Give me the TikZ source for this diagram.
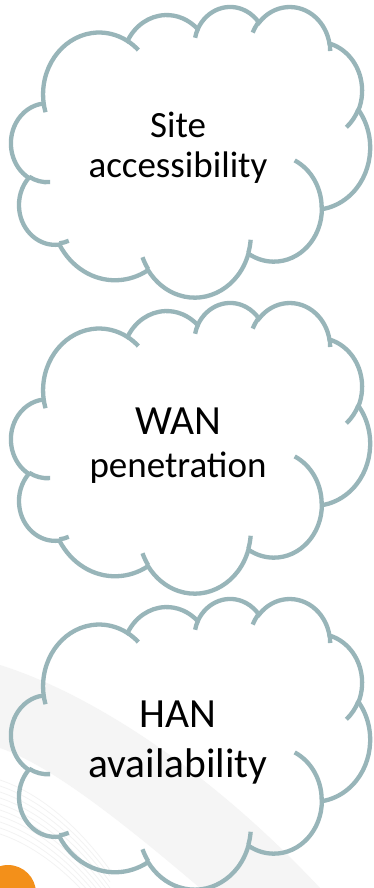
\documentclass[tikz,border=0pt]{standalone}
\usepackage{fontspec}
\setmainfont{Carlito}
\definecolor{cloudgray}{RGB}{152,181,185}
\definecolor{logoorange}{RGB}{243,144,26}

\tikzset{
  cloudline/.style={draw=cloudgray, line width=4.3pt},
  bigtext/.style={font=\fontsize{41.5}{50}\selectfont, anchor=base, inner sep=0pt},
  smalltext/.style={font=\fontsize{37}{41}\selectfont, anchor=base, inner sep=0pt},
  puffcloud/.pic={
    % outline (grid of 432 x 432)
    \draw[cloudline] (39,143.7)
      \foreach \wr/\hr/\st/\sw in {67.53/91.90/-190.4875/123.7805, 53.33/72.67/-144.1024/89.9452,
          43.65/59.45/-145.8079/99.7230, 48.57/65.95/-130.9861/117.2417,
          53.33/72.73/-78.7089/109.0269, 67.75/92.20/-46.2673/130.2690,
          57.85/78.67/0.6250/114.0333, 67.52/92.15/22.4516/115.1726,
          77.20/105.43/66.2426/75.7300, 43.60/59.18/-274.9421/146.7356,
          43.45/59.45/-246.8285/152.6800}{
        arc[start angle={atan2(\wr*sin(\st),\hr*cos(\st))},
            delta angle={mod(atan2(\wr*sin(\st+\sw),\hr*cos(\st+\sw))-atan2(\wr*sin(\st),\hr*cos(\st))+720,360)},
            x radius=\wr, y radius=\hr]
      } -- cycle;
    % inner hooks
    \foreach \px/\py/\wr/\hr/\st/\sw in {46.93/261.77/43.45/59.45/86.7420/26.4295,
        69.28/348.99/43.60/59.18/73.6105/11.4475, 164.78/390.90/67.52/92.15/137.6242/14.0811,
        288.27/347.51/67.52/92.15/6.4533/15.9984, 341.29/229.54/57.85/78.67/-70.2924/70.9174,
        417.98/153.54/53.33/72.73/30.3180/27.7515, 383.24/54.26/48.57/65.95/-13.7443/14.8589,
        290.78/39.52/48.57/65.95/-149.1815/18.1954, 221.41/47.20/43.65/59.45/-163.4943/17.6864,
        140.00/51.92/67.53/91.90/-66.7070/12.3194, 41.27/157.89/67.53/91.90/157.6544/11.8582}
      \draw[cloudline] (\px,\py)
        arc[start angle={atan2(\wr*sin(\st),\hr*cos(\st))},
            delta angle={mod(atan2(\wr*sin(\st+\sw),\hr*cos(\st+\sw))-atan2(\wr*sin(\st),\hr*cos(\st))+720,360)},
            x radius=\wr, y radius=\hr];
  }
}

\begin{document}
\begin{tikzpicture}[x=1pt, y=-1pt]
  \useasboundingbox (0,0) rectangle (374,888);
  \clip (0,0) rectangle (374,888);
  \fill[white] (0,0) rectangle (374,888);

  % slide background
  \fill[black!4] (0,665) .. controls (80,690) and (200,760) .. (320,888)
    -- (200,888) .. controls (120,820) and (50,765) .. (0,748) -- cycle;
  \foreach \k in {0,...,9}
    \draw[black!5, line width=0.7pt] (0,780+6*\k) .. controls (30,790+6*\k) and (70,815+6*\k) .. (110,870+6*\k);
  \fill[logoorange] (8,893) circle (28);

  \pic[xscale=0.8306, yscale=0.6727] at (11.2,6) {puffcloud};
  \pic[xscale=0.8306, yscale=0.6727] at (11.2,302) {puffcloud};
  \pic[xscale=0.8306, yscale=0.6727] at (11.2,598) {puffcloud};

  \node[smalltext] (site) at (178,137) {Site};
  \node[smalltext] (access) at (178,177) {accessibility};

  \node[bigtext] (wan) at (178,434) {WAN};
  \node[smalltext] (penet) at (178,477) {penetration};

  \node[bigtext] (han) at (178,727) {HAN};
  \node[bigtext] (avail) at (178,777) {availability};
\end{tikzpicture}
\end{document}
